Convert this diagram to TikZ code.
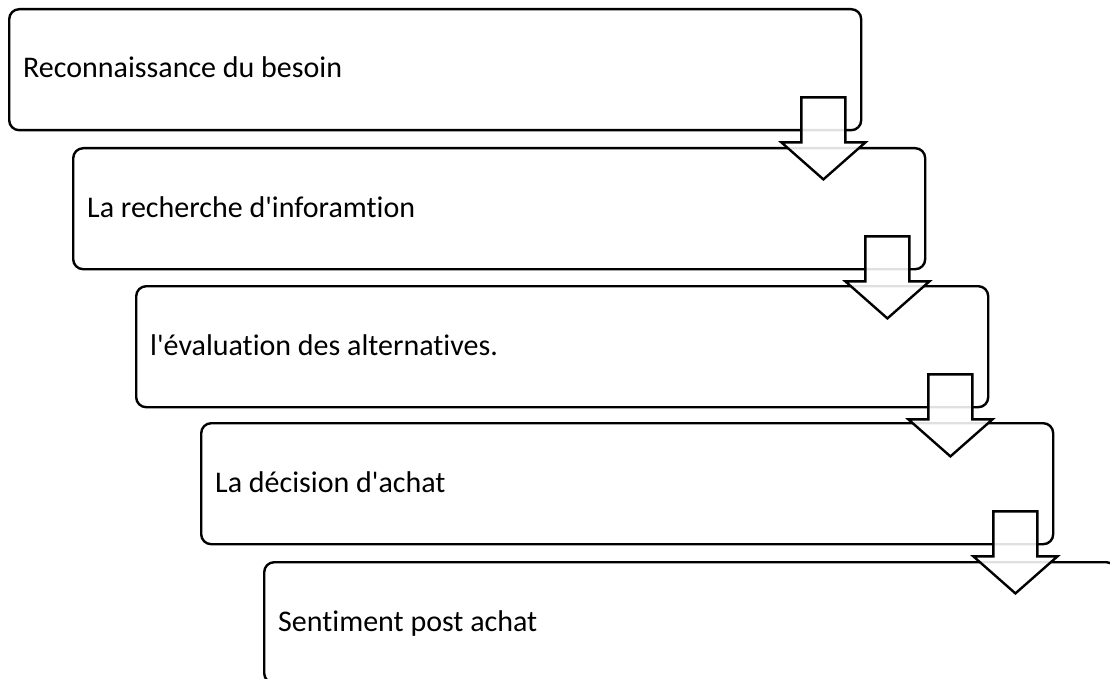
\documentclass[tikz,border=0pt]{standalone}
\usepackage{fontspec}
\setmainfont{Carlito}[Ligatures=NoCommon]
\usepackage{tikz}

\tikzset{
  stagebox/.style={draw,rounded corners=10pt,line width=2.4pt,anchor=north west,
    minimum width=852pt,minimum height=121pt,inner sep=0},
  stagetext/.style={anchor=base west,inner sep=0,font=\fontsize{30}{36}\selectfont},
  blockarrow/.style={draw,line width=2.4pt,fill=white,fill opacity=0.88,line join=miter}
}
\newcommand\stagearrow[1]{%
  \draw[blockarrow] ([shift={(-61,-34)}]#1.south east) -- ++(44,0) -- ++(0,45) -- ++(20,0)
    -- ++(-42,37) -- ++(-42,-37) -- ++(20,0) -- cycle;}

\begin{document}
\begin{tikzpicture}[x=1pt,y=-1pt]
        \useasboundingbox (0,0) rectangle (1110,679);
        \node[stagebox] (s1) at (8,8) {};
        \node[stagebox] (s2) at (72,147) {};
        \node[stagebox] (s3) at (135,285) {};
        \node[stagebox] (s4) at (200,422) {};
        \node[stagebox] (s5) at (263,561) {};
        \node[stagetext] (t1) at ([shift={(15,70)}]s1.north west) {Reconnaissance du besoin};
        \node[stagetext] (t2) at ([shift={(15,70)}]s2.north west) {La recherche d\textquotesingle inforamtion};
        \node[stagetext] (t3) at ([shift={(15,70)}]s3.north west) {l\textquotesingle évaluation des alternatives.};
        \node[stagetext] (t4) at ([shift={(15,70)}]s4.north west) {La décision d\textquotesingle achat};
        \node[stagetext] (t5) at ([shift={(15,70)}]s5.north west) {Sentiment post achat};
        \stagearrow{s1} \stagearrow{s2} \stagearrow{s3} \stagearrow{s4}
      \end{tikzpicture}
\end{document}
